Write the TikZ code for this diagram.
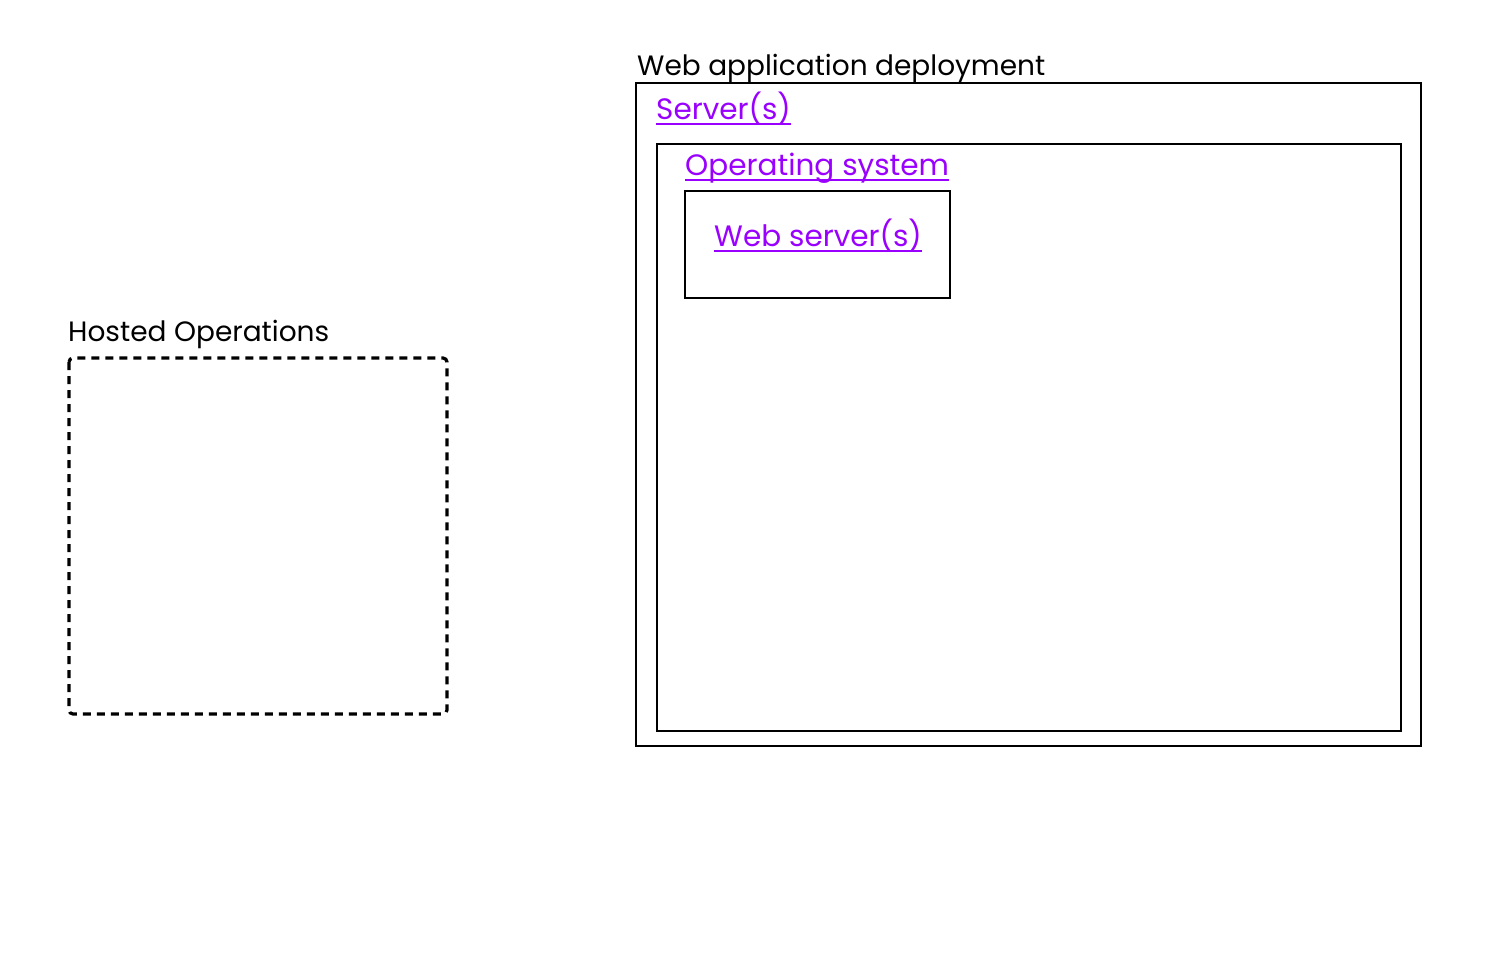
\documentclass[tikz,border=0pt]{standalone}
\usepackage{fontspec}
\setmainfont{Poppins}
\definecolor{linkpurple}{RGB}{153,0,255}
\tikzset{
  frame/.style={draw=black, line width=2.6pt},
  dashframe/.style={draw=black, line width=3.2pt, dash pattern=on 8pt off 6pt, rounded corners=4pt},
  title/.style={anchor=base west, inner sep=0pt, font=\fontsize{28}{31}\selectfont, text=black},
  link/.style={anchor=base west, inner sep=0pt, font=\fontsize{29.5}{32}\selectfont, text=linkpurple},
  uline/.style={draw=linkpurple, line width=2.2pt}
}
\begin{document}
\begin{tikzpicture}[x=1pt,y=-1pt]
\useasboundingbox (0,0) rectangle (1496,970);
% Web application deployment
\node[title] (wadt) at (637,75) {Web application deployment};
\draw[frame] (636,83) rectangle (1421,746);
\node[link] (srv) at (656,119) {Server(s)};
\draw[uline] ([yshift=-5pt]srv.base west) -- ([yshift=-5pt]srv.base east);
\draw[frame] (657,144) rectangle (1401,731);
\node[link] (os) at (685,175) {Operating system};
\draw[uline] ([yshift=-5pt]os.base west) -- ([yshift=-5pt]os.base east);
\draw[frame] (685,191) rectangle (950,298);
\node[link] (ws) at (714,246) {Web server(s)};
\draw[uline] ([yshift=-5pt]ws.base west) -- ([yshift=-5pt]ws.base east);
% Hosted operations
\node[title] (ho) at (68,341) {Hosted Operations};
\draw[dashframe] (69,358) rectangle (447,714);
\end{tikzpicture}
\end{document}
